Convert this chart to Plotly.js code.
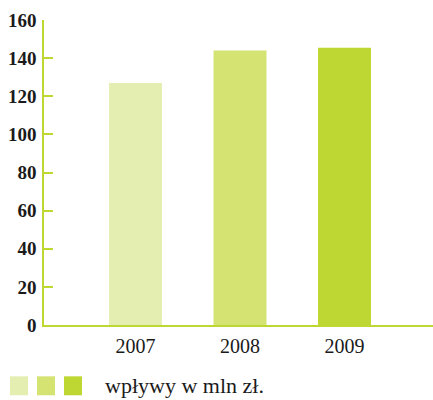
<!DOCTYPE html>
<html>
<head>
<meta charset="utf-8">
<script src="https://cdn.plot.ly/plotly-3.0.1.min.js"></script>
<style>
html,body{margin:0;padding:0;background:#fff;}
#chart{width:433px;height:400px;}
#chart svg text{font-family:'Liberation Serif', serif !important;}
</style>
</head>
<body>
<div id="chart"></div>
<script>
var categories = ["2007", "2008", "2009"];
var values = [127, 144, 145.5];
var colors = ["#e4eeb0", "#d4e372", "#bfd732"];
var yTicks = [0, 20, 40, 60, 80, 100, 120, 140, 160];
var legendLabel = "wpływy w mln zł.";

var xs = categories.map(function (c, i) { return i; });

var trace = {
  type: "bar",
  x: xs,
  y: values,
  width: 0.507,
  marker: { color: colors, line: { width: 0 } },
  hoverinfo: "none"
};

var axisColor = "#bfd732";
var serifFamily = "Liberation Serif";

var shapes = [];
var sqX = [10, 37, 64];
colors.forEach(function (c, i) {
  shapes.push({
    type: "rect", xref: "paper", yref: "paper",
    x0: (sqX[i] - 44) / 389, x1: (sqX[i] + 18 - 44) / 389,
    y0: -(377 - 325.5) / 306, y1: -(396 - 325.5) / 306,
    fillcolor: c, line: { width: 0 }
  });
});

var layout = {
  width: 433, height: 400,
  margin: { l: 44, r: 0, t: 19.5, b: 74.5, pad: 0 },
  paper_bgcolor: "#fff", plot_bgcolor: "#fff",
  showlegend: false,
  font: { family: serifFamily },
  xaxis: {
    range: [-0.876, 2.847],
    tickvals: xs, ticktext: categories,
    showline: true, linecolor: axisColor, linewidth: 1.5,
    showgrid: false, zeroline: false, ticks: "",
    tickfont: { family: serifFamily, size: 20, color: "#1a1a1a" },
    ticklabelstandoff: 2,
    fixedrange: true
  },
  yaxis: {
    range: [0, 160],
    tickvals: yTicks,
    showline: true, linecolor: axisColor, linewidth: 1.5,
    showgrid: false, zeroline: false,
    ticks: "inside", ticklen: 9, tickcolor: axisColor, tickwidth: 1.5,
    tickfont: { family: serifFamily, size: 19, color: "#1a1a1a", weight: "bold" },
    ticklabelstandoff: 2,
    fixedrange: true
  },
  shapes: shapes,
  annotations: [{
    xref: "paper", yref: "paper",
    x: (103 - 44) / 389, y: -(386 - 325.5) / 306,
    xanchor: "left", yanchor: "middle",
    text: legendLabel, showarrow: false,
    font: { family: serifFamily, size: 22, color: "#1a1a1a" }
  }]
};

Plotly.newPlot("chart", [trace], layout, { displayModeBar: false });
</script>
</body>
</html>
